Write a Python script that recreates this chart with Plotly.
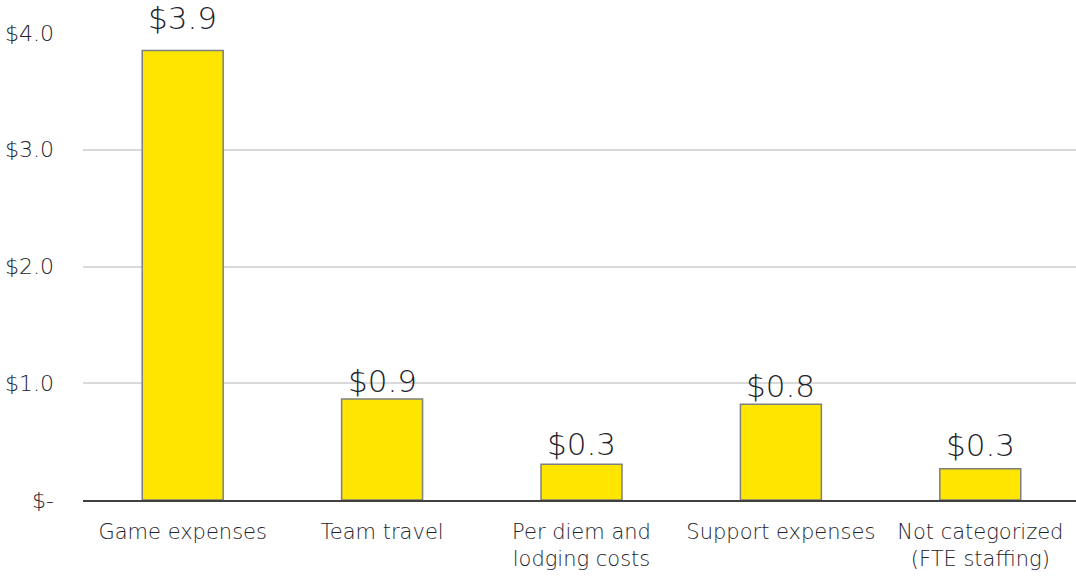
import plotly.graph_objects as go

# Spending by category ($ millions)
categories = [
    "Game expenses",
    "Team travel",
    "Per diem and<br>lodging costs",
    "Support expenses",
    "Not categorized<br>(FTE staffing)",
]
values = [3.85, 0.865, 0.306, 0.82, 0.268]

tick_vals = [0, 1, 2, 3, 4]
tick_text = ["$-", "$1.0", "$2.0", "$3.0", "$4.0"]

# vertical offset (px) of each value label above its bar
label_shift = [13, -2, 0, -2, 4]

FONT = "DejaVu Sans"
TEXT = "#23232C"

fig = go.Figure(
    go.Bar(
        x=categories,
        y=values,
        marker=dict(color="#FFE600", line=dict(color="#7F7F7F", width=1.5)),
        width=0.406,
        hoverinfo="skip",
    )
)

for cat, val, shift in zip(categories, values, label_shift):
    fig.add_annotation(
        x=cat, y=val, text=f"${val:.1f}", showarrow=False,
        yanchor="bottom", yshift=shift,
        font=dict(family=FONT, size=31, weight=300, color=TEXT),
    )

fig.update_layout(
    width=1076, height=578,
    margin=dict(l=83, r=0, t=33, b=78),
    paper_bgcolor="white", plot_bgcolor="white",
    showlegend=False,
    font=dict(family=FONT, weight=300, color=TEXT),
    xaxis=dict(
        range=[-0.5, 4.48],
        showgrid=False, ticks="", showline=True, linecolor="#404040", linewidth=1.5,
        tickfont=dict(family=FONT, size=21, weight=300, color=TEXT),
        ticklabelstandoff=12, fixedrange=True,
    ),
    yaxis=dict(
        range=[0, 4], tickvals=tick_vals, ticktext=tick_text,
        showgrid=True, gridcolor="#D9D9D9", gridwidth=1.5,
        zeroline=False, showline=False, ticks="",
        tickfont=dict(family=FONT, size=22, weight=300, color=TEXT),
        ticklabelstandoff=28, fixedrange=True,
    ),
)

fig.write_html("out.html")
